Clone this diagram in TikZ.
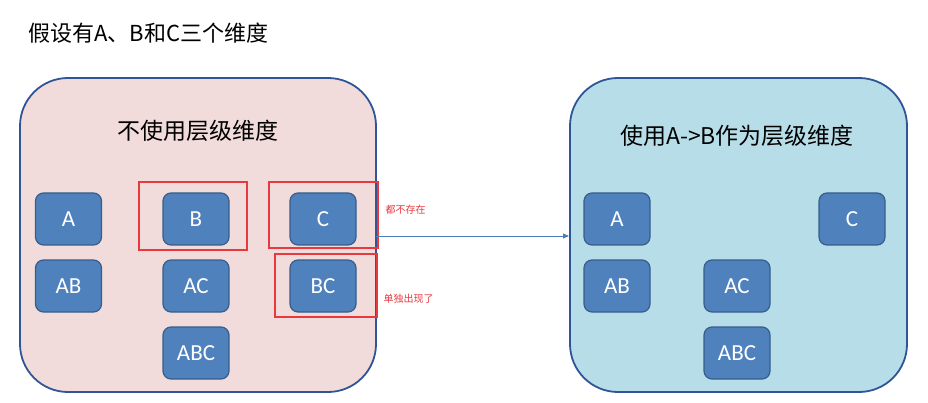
\documentclass[tikz,border=0pt]{standalone}
\usepackage{fontspec}
\setmainfont{Carlito}
\newfontfamily\cjk{Noto Sans CJK SC}
\usetikzlibrary{arrows.meta}
\definecolor{pinkbg}{HTML}{F2DCDB}
\definecolor{bluebg}{HTML}{B7DEE8}
\definecolor{frame}{HTML}{2F5597}
\definecolor{cell}{HTML}{4F81BD}
\definecolor{cellborder}{HTML}{385D8A}
\definecolor{mark}{HTML}{E8393F}
\definecolor{link}{HTML}{4A7EBB}
\begin{document}
\begin{tikzpicture}[x=1pt,y=-1pt,
  panel/.style={draw=frame,line width=1.8pt,rounded corners=48pt},
  cellbox/.style={draw=cellborder,line width=1.2pt,fill=cell,rounded corners=8pt,minimum width=66pt,minimum height=52pt,inner sep=0pt,text=white,font=\fontsize{23}{25}\selectfont},
  redbox/.style={draw=mark,line width=1.1pt},
  note/.style={text=mark,font=\cjk\fontsize{10}{11}\selectfont,anchor=west}]
\useasboundingbox (0,0) rectangle (928,403);
\node[anchor=west,font=\cjk\fontsize{22}{24}\selectfont] (title) at (25,33) {假设有A、B和C三个维度};
\draw[panel,fill=pinkbg] (20,78) rectangle (376,392);
\draw[panel,fill=bluebg] (570,78) rectangle (907,392);
\node[font=\cjk\fontsize{23}{25}\selectfont] (lt) at (198,131) {不使用层级维度};
\node[font=\cjk\fontsize{23}{25}\selectfont] (rt) at (737,136) {使用A->B作为层级维度};
% left cells
\node[cellbox] (lA) at (68.5,219) {A};
\node[cellbox] (lB) at (196,219) {B};
\node[cellbox] (lC) at (323,219) {C};
\node[cellbox] (lAB) at (68.5,286) {AB};
\node[cellbox] (lAC) at (196,286) {AC};
\node[cellbox] (lBC) at (323,286) {BC};
\node[cellbox] (lABC) at (196,353) {ABC};
% red marks
\draw[redbox] (139,182) rectangle (247,250);
\draw[redbox] (269,182) rectangle (378,248);
\draw[redbox] (275,254) rectangle (377,317);
\node[note] (n1) at (382,210) {都不存在};
\node[note] (n2) at (380,299) {单独出现了};
% right cells
\node[cellbox] (rA) at (617,219) {A};
\node[cellbox] (rC) at (852,219) {C};
\node[cellbox] (rAB) at (617,286) {AB};
\node[cellbox] (rAC) at (737,286) {AC};
\node[cellbox] (rABC) at (737,353) {ABC};
\coordinate (s) at (376,236);
\coordinate (e) at (569,236);
\draw[link,line width=0.8pt,-{Triangle[length=6pt,width=5pt]}] (s) -- (e);
\end{tikzpicture}
\end{document}
